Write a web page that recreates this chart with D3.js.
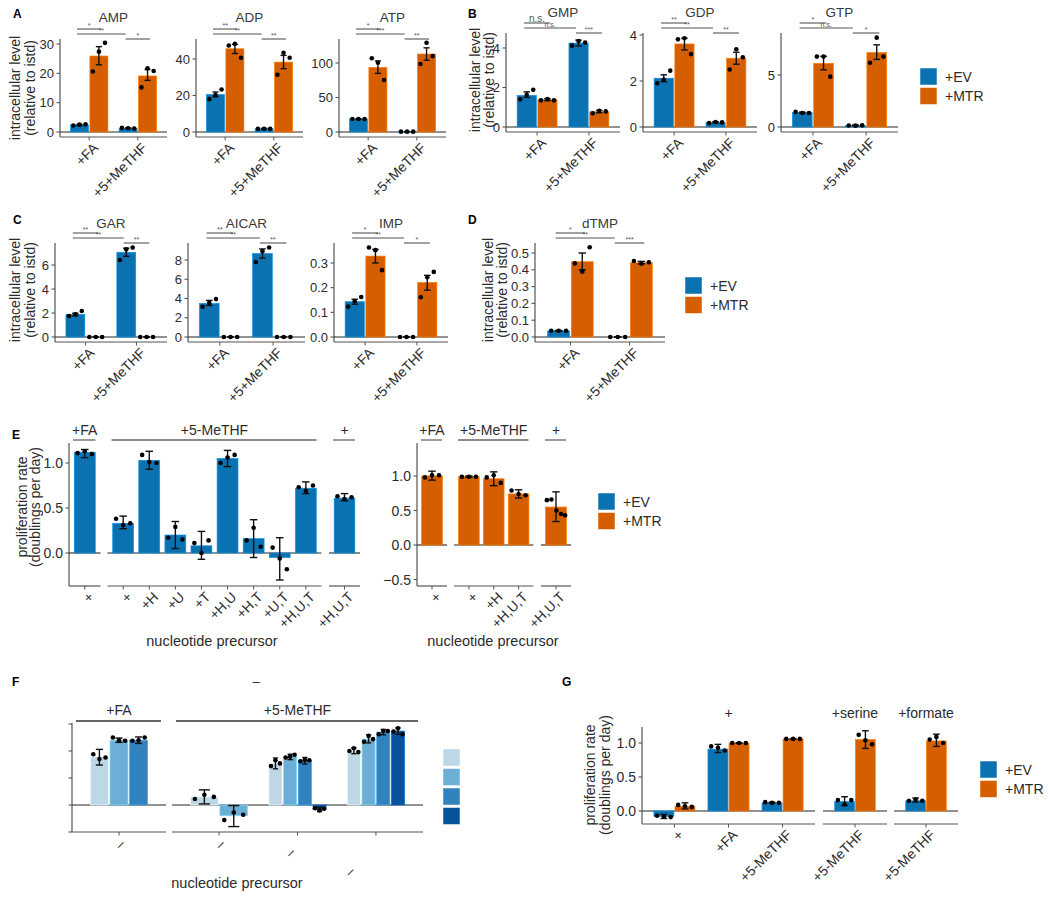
<!DOCTYPE html>
<html><head><meta charset="utf-8">
<script src="https://cdn.jsdelivr.net/npm/d3@7"></script>
<style>
body{margin:0;background:#fff;}
svg{font-family:"Liberation Sans",Arial,Helvetica,sans-serif;}
</style></head><body>
<svg id="chart" width="1050" height="897"></svg>
<script>
// ================= DATA =================
const conditions = ["+FA", "+5+MeTHF"];
const cellLines = ["+EV", "+MTR"];
// rows: [condition, cell line, mean, low, high, replicate points]
const AMP = [
  ["+FA", "+EV", 2.4, 2.2, 2.6, [2.2, 2.5, 2.6]],
  ["+FA", "+MTR", 25.9, 22.9, 29.1, [20.6, 27.4, 30.4]],
  ["+5+MeTHF", "+EV", 1.3, 1.2, 1.4, [1.4, 1.3, 1.2]],
  ["+5+MeTHF", "+MTR", 19.1, 17.6, 21.3, [15.2, 21.7, 20.8]]];
const ADP = [
  ["+FA", "+EV", 20.5, 19.3, 21.9, [18.0, 20.2, 23.3]],
  ["+FA", "+MTR", 45.6, 43.0, 48.0, [47.4, 48.3, 40.7]],
  ["+5+MeTHF", "+EV", 1.8, 1.6, 2.0, [1.8, 1.8, 1.8]],
  ["+5+MeTHF", "+MTR", 38.3, 34.7, 42.0, [31.4, 43.4, 40.7]]];
const ATP = [
  ["+FA", "+EV", 18.8, 18.3, 19.3, [18.8, 18.8, 18.8]],
  ["+FA", "+MTR", 93.7, 85, 103, [106.8, 100.4, 75.4]],
  ["+5+MeTHF", "+EV", 0.5, 0.3, 0.7, [0.5, 0.5, 0.5]],
  ["+5+MeTHF", "+MTR", 113, 104, 122, [98.5, 129.4, 110]]];
const GMP = [
  ["+FA", "+EV", 1.6, 1.5, 1.78, [1.4, 1.63, 1.88]],
  ["+FA", "+MTR", 1.38, 1.33, 1.43, [1.35, 1.42, 1.35]],
  ["+5+MeTHF", "+EV", 4.25, 4.1, 4.4, [4.12, 4.35, 4.28]],
  ["+5+MeTHF", "+MTR", 0.77, 0.72, 0.84, [0.70, 0.82, 0.79]]];
const GDP = [
  ["+FA", "+EV", 2.12, 1.97, 2.27, [1.9, 2.05, 2.45]],
  ["+FA", "+MTR", 3.61, 3.35, 3.86, [3.81, 3.86, 3.17]],
  ["+5+MeTHF", "+EV", 0.2, 0.17, 0.23, [0.17, 0.22, 0.2]],
  ["+5+MeTHF", "+MTR", 2.99, 2.73, 3.25, [2.5, 3.38, 3.03]]];
const GTP = [
  ["+FA", "+EV", 1.38, 1.33, 1.43, [1.45, 1.35, 1.35]],
  ["+FA", "+MTR", 6.12, 5.5, 6.8, [6.77, 6.77, 4.84]],
  ["+5+MeTHF", "+EV", 0.15, 0.1, 0.2, [0.15, 0.13, 0.16]],
  ["+5+MeTHF", "+MTR", 7.15, 6.5, 7.9, [6.18, 8.59, 6.77]]];
const GAR = [
  ["+FA", "+EV", 1.89, 1.77, 1.98, [1.75, 1.89, 2.17]],
  ["+FA", "+MTR", 0, 0, 0, [0, 0, 0]],
  ["+5+MeTHF", "+EV", 7.06, 6.72, 7.4, [6.42, 7.3, 7.45]],
  ["+5+MeTHF", "+MTR", 0, 0, 0, [0, 0, 0]]];
const AICAR = [
  ["+FA", "+EV", 3.49, 3.28, 3.8, [3.14, 3.55, 3.94]],
  ["+FA", "+MTR", 0, 0, 0, [0, 0, 0]],
  ["+5+MeTHF", "+EV", 8.67, 8.2, 9.15, [7.8, 8.9, 9.3]],
  ["+5+MeTHF", "+MTR", 0, 0, 0, [0, 0, 0]]];
const IMP = [
  ["+FA", "+EV", 0.143, 0.133, 0.153, [0.123, 0.145, 0.162]],
  ["+FA", "+MTR", 0.328, 0.30, 0.355, [0.363, 0.352, 0.271]],
  ["+5+MeTHF", "+EV", 0, 0, 0, [0, 0, 0]],
  ["+5+MeTHF", "+MTR", 0.221, 0.19, 0.25, [0.161, 0.242, 0.264]]];
const dTMP = [
  ["+FA", "+EV", 0.037, 0.035, 0.039, [0.037, 0.037, 0.037]],
  ["+FA", "+MTR", 0.448, 0.40, 0.50, [0.438, 0.389, 0.534]],
  ["+5+MeTHF", "+EV", 0, 0, 0, [0, 0, 0]],
  ["+5+MeTHF", "+MTR", 0.442, 0.435, 0.45, [0.452, 0.437, 0.445]]];
// significance labels: [FA EV vs FA MTR, FA EV vs MeTHF EV, MeTHF EV vs MeTHF MTR]
const AMP_sig = ["*", "**", "*"];
const ADP_sig = ["**", "**", "**"];
const ATP_sig = ["*", "***", "**"];
const GMP_sig = ["n.s.", "n.s.", "***"];
const GDP_sig = ["**", "**", "**"];
const GTP_sig = ["*", "n.s.", "*"];
const GAR_sig = ["**", "**", "**"];
const AICAR_sig = ["**", "**", "**"];
const IMP_sig = ["*", "**", "*"];
const dTMP_sig = ["*", "**", "***"];
const AMP_ticks = [0, 10, 20, 30], ADP_ticks = [0, 20, 40], ATP_ticks = [0, 50, 100];
const GMP_ticks = [0, 2, 4], GDP_ticks = [0, 2, 4], GTP_ticks = [0, 5];
const GAR_ticks = [0, 2, 4, 6], AICAR_ticks = [0, 2, 4, 6, 8];
const IMP_ticks = [0, 0.1, 0.2, 0.3], dTMP_ticks = [0, 0.1, 0.2, 0.3, 0.4, 0.5];

// Panel E  ("+" labels appear as "×" once rotated)
const E_strips = ["+FA", "+5-MeTHF", "+"];
const E_EV_cats = [["+"], ["+", "+H", "+U", "+T", "+H,U", "+H,T", "+U,T", "+H,U,T"], ["+H,U,T"]];
// rows: [facet, precursor, mean, low, high, points]
const E_EV = [
  [0, "+", 1.12, 1.06, 1.15, [1.11, 1.13, 1.10]],
  [1, "+", 0.33, 0.27, 0.41, [0.38, 0.31, 0.33]],
  [1, "+H", 1.03, 0.93, 1.13, [1.09, 1.01, 1.00]],
  [1, "+U", 0.20, 0.05, 0.35, [0.17, 0.29, 0.15]],
  [1, "+T", 0.08, -0.07, 0.24, [0.11, 0.00, 0.14]],
  [1, "+H,U", 1.05, 0.96, 1.14, [1.00, 1.06, 1.09]],
  [1, "+H,T", 0.16, -0.05, 0.37, [0.14, 0.28, 0.07]],
  [1, "+U,T", -0.05, -0.30, 0.17, [0.06, -0.06, -0.18]],
  [1, "+H,U,T", 0.72, 0.66, 0.79, [0.73, 0.69, 0.75]],
  [2, "+H,U,T", 0.61, 0.58, 0.66, [0.63, 0.60, 0.62]]];
const E_MTR_cats = [["+"], ["+", "+H", "+H,U,T"], ["+H,U,T"]];
const E_MTR = [
  [0, "+", 1.0, 0.94, 1.07, [0.98, 1.01, 1.01]],
  [1, "+", 0.99, 0.98, 1.0, [0.99, 0.99, 0.99]],
  [1, "+H", 0.96, 0.86, 1.06, [0.98, 1.01, 0.90]],
  [1, "+H,U,T", 0.74, 0.68, 0.80, [0.79, 0.74, 0.72]],
  [2, "+H,U,T", 0.55, 0.34, 0.77, [0.65, 0.66, 0.50, 0.45, 0.43]]];
const E_ticksEV = [0, 0.5, 1.0];
const E_ticksMTR = [-0.5, 0, 0.5, 1.0];

// Panel F
const F_strips = ["+FA", "+5-MeTHF"];
const F_cats = [["–"], ["–", "–", "–"]];
const F_labelPad = [[0], [0, 3, 10]];
const F_shades = ["#bdd7e7", "#6baed6", "#3182bd", "#08519c"];
// rows: [facet, group, shade, mean, low, high, points]
const F_rows = [
  [0, 0, 0, 0.89, 0.74, 1.03, [0.94, 0.85, 0.88]],
  [0, 0, 1, 1.20, 1.16, 1.24, [1.25, 1.20, 1.19]],
  [0, 0, 2, 1.20, 1.14, 1.26, [1.19, 1.20, 1.25]],
  [1, 0, 0, 0.15, 0.02, 0.28, [0.11, 0.19, 0.15]],
  [1, 0, 1, -0.20, -0.40, -0.01, [-0.28, -0.14, -0.18]],
  [1, 1, 0, 0.77, 0.67, 0.87, [0.72, 0.83, 0.77]],
  [1, 1, 1, 0.90, 0.84, 0.94, [0.88, 0.90, 0.93]],
  [1, 1, 2, 0.83, 0.76, 0.88, [0.81, 0.84, 0.83]],
  [1, 1, 3, -0.08, -0.12, -0.04, [-0.06, -0.10, -0.07]],
  [1, 2, 0, 1.00, 0.95, 1.06, [1.00, 1.05, 0.98]],
  [1, 2, 1, 1.22, 1.15, 1.30, [1.17, 1.28, 1.22]],
  [1, 2, 2, 1.35, 1.30, 1.40, [1.31, 1.37, 1.37]],
  [1, 2, 3, 1.37, 1.31, 1.43, [1.36, 1.42, 1.31]]];
const F_ticks = [-0.5, 0, 0.5, 1.0, 1.5];

// Panel G
const G_strips = ["+", "+serine", "+formate"];
const G_cats = [["+", "+FA", "+5-MeTHF"], ["+5-MeTHF"], ["+5-MeTHF"]];
// rows: [facet, condition, cell line, mean, low, high, points]
const G_rows = [
  [0, "+", "+EV", -0.08, -0.11, -0.05, [-0.07, -0.08, -0.09]],
  [0, "+", "+MTR", 0.07, 0.03, 0.12, [0.09, 0.07, 0.06]],
  [0, "+FA", "+EV", 0.91, 0.86, 0.98, [0.95, 0.93, 0.89]],
  [0, "+FA", "+MTR", 1.0, 0.995, 1.005, [1.0, 1.0, 1.0]],
  [0, "+5-MeTHF", "+EV", 0.12, 0.115, 0.13, [0.13, 0.12, 0.12]],
  [0, "+5-MeTHF", "+MTR", 1.06, 1.055, 1.065, [1.06, 1.06, 1.06]],
  [1, "+5-MeTHF", "+EV", 0.14, 0.08, 0.21, [0.16, 0.10, 0.16]],
  [1, "+5-MeTHF", "+MTR", 1.05, 0.92, 1.18, [1.12, 1.04, 0.98]],
  [2, "+5-MeTHF", "+EV", 0.15, 0.13, 0.19, [0.15, 0.17, 0.15]],
  [2, "+5-MeTHF", "+MTR", 1.03, 0.95, 1.13, [1.05, 1.09, 1.0]]];
const G_ticks = [0, 0.5, 1.0];

// ================= DRAWING =================
const svg = d3.select("#chart");
const COL = {"+EV": "#0b72b1", "+MTR": "#d55e00"};
const AXIS = "#555", ZERO = "#262626", TXT = "#2b2b2b";

function text(x, y, s, o = {}) {
  const t = svg.append("text").attr("x", x).attr("y", y).text(s)
    .attr("font-size", o.size || 13).attr("fill", o.fill || TXT)
    .attr("text-anchor", o.anchor || "middle");
  if (o.weight) t.attr("font-weight", o.weight);
  if (o.rotate) t.attr("transform", `rotate(${o.rotate},${x},${y})`);
  if (o.dy) t.attr("dy", o.dy);
  return t;
}

function ptOffsets(n) {
  if (n === 3) return [-0.34, 0, 0.34];
  if (n === 5) return [-0.44, -0.22, 0.02, 0.24, 0.44];
  return d3.range(n).map(i => (i - (n - 1) / 2) * 0.3);
}

function drawPanel(spec) {
  const g = svg.append("g");
  const y = d3.scaleLinear().domain([0, spec.refVal]).range([spec.zero, spec.refPx]);
  const xs = spec.facets.map(f => d3.scaleLinear().domain([0.4, f.cats.length + 0.6]).range([f.x0, f.x1]));
  const ax = spec.facets[0].x0;
  g.append("line").attr("x1", ax).attr("x2", ax).attr("y1", spec.top).attr("y2", spec.bottom)
    .attr("stroke", AXIS).attr("stroke-width", 1.2);
  spec.ticks.forEach(t => {
    g.append("line").attr("x1", ax - 3.5).attr("x2", ax).attr("y1", y(t)).attr("y2", y(t))
      .attr("stroke", AXIS).attr("stroke-width", 1.1);
    if (spec.tickFmt) g.append("text").attr("x", ax - 6).attr("y", y(t)).attr("dy", "0.36em")
      .attr("text-anchor", "end").attr("font-size", spec.tickSize || 13).attr("fill", TXT)
      .text(spec.tickFmt(t));
  });
  spec.facets.forEach((f, fi) => {
    const x = xs[fi];
    g.append("line").attr("x1", f.x0).attr("x2", f.x1).attr("y1", y(0)).attr("y2", y(0))
      .attr("stroke", ZERO).attr("stroke-width", 1.1);
    g.append("line").attr("x1", f.x0).attr("x2", f.x1).attr("y1", spec.bottom).attr("y2", spec.bottom)
      .attr("stroke", AXIS).attr("stroke-width", 1.2);
    f.cats.forEach((c, ci) => {
      const cx = x(ci + 1);
      g.append("line").attr("x1", cx).attr("x2", cx).attr("y1", spec.bottom).attr("y2", spec.bottom + 3.5)
        .attr("stroke", AXIS).attr("stroke-width", 1);
      const pad = f.pads ? "\u00a0".repeat(f.pads[ci]) : "";
      const lx = cx + (spec.lblDx !== undefined ? spec.lblDx : 3), ly = spec.bottom + (spec.lblDy || 5);
      g.append("text").attr("transform", `translate(${lx},${ly}) rotate(-45)`)
        .attr("text-anchor", "end").attr("dy", "0.7em").attr("font-size", spec.lblSize || 13.8)
        .attr("fill", TXT).text(c + pad);
    });
    if (f.strip !== undefined) {
      const mid = (f.x0 + f.x1) / 2;
      g.append("text").attr("x", mid).attr("y", spec.stripY).attr("text-anchor", "middle")
        .attr("font-size", 14).attr("fill", TXT).text(f.strip);
      if (spec.stripLineY) g.append("line").attr("x1", f.x0 + 4).attr("x2", f.x1 - 5)
        .attr("y1", spec.stripLineY).attr("y2", spec.stripLineY)
        .attr("stroke", "#666").attr("stroke-width", spec.stripLineW || 1.3);
    }
  });
  const bars = spec.bars.map(b => {
    const x = xs[b.facet];
    const slotW = spec.dodge / b.n;
    const pos = b.pos + (b.slot - (b.n - 1) / 2) * slotW;
    return Object.assign({}, b, {cx: x(pos), w: x(slotW - spec.gap) - x(0)});
  });
  g.selectAll("rect.bar").data(bars).join("rect").attr("class", "bar")
    .attr("x", d => d.cx - d.w / 2).attr("width", d => d.w)
    .attr("y", d => Math.min(y(d.mean), y(0))).attr("height", d => Math.abs(y(d.mean) - y(0)))
    .attr("fill", d => d.fill).attr("stroke", d => d3.color(d.fill).brighter(0.7)).attr("stroke-width", 0.7);
  bars.forEach(d => {
    const cw = d.w * (spec.capFrac || 0.34) / 2;
    g.append("line").attr("x1", d.cx).attr("x2", d.cx).attr("y1", y(d.lo)).attr("y2", y(d.hi))
      .attr("stroke", "#111").attr("stroke-width", 1.4);
    [d.lo, d.hi].forEach(v => g.append("line").attr("x1", d.cx - cw).attr("x2", d.cx + cw)
      .attr("y1", y(v)).attr("y2", y(v)).attr("stroke", "#111").attr("stroke-width", 1.4));
    const offs = ptOffsets(d.pts.length);
    d.pts.forEach((p, i) => g.append("circle").attr("cx", d.cx + offs[i] * d.w).attr("cy", y(p))
      .attr("r", 2.3).attr("fill", "#000"));
  });
  return {g, y, xs};
}

function metab(name, rows, sig, L, ticks, fmt) {
  const bars = rows.map(r => ({facet: 0, pos: conditions.indexOf(r[0]) + 1, slot: cellLines.indexOf(r[1]), n: 2,
    fill: COL[r[1]], mean: r[2], lo: r[3], hi: r[4], pts: r[5]}));
  const p = drawPanel({facets: [{x0: L.x0, x1: L.x1, cats: conditions}], zero: L.zero, refVal: L.refVal,
    refPx: L.refPx, top: L.top, bottom: L.bottom, ticks, tickFmt: fmt, bars, dodge: 0.8, gap: 0.03});
  text((L.x0 + L.x1) / 2, L.titleY, name, {size: 13.5, fill: "#3a3a3a"});
  const x = p.xs[0];
  const br = [[0.75, 1.25, L.top - 10], [0.75, 1.75, L.top - 5], [1.75, 2.25, L.top]];
  br.forEach((b, i) => {
    p.g.append("line").attr("x1", x(b[0])).attr("x2", x(b[1])).attr("y1", b[2]).attr("y2", b[2])
      .attr("stroke", "#555").attr("stroke-width", 1.1);
    const big = L.bigSig === i;
    p.g.append("text").attr("x", (x(b[0]) + x(b[1])) / 2).attr("y", b[2] - (big ? 1.5 : 1))
      .attr("text-anchor", "middle").attr("font-size", big ? 10 : 7).attr("fill", "#555").text(sig[i]);
  });
}

function yTitle(x, y, lines, size) {
  lines.forEach((s, i) => text(x[i], y, s, {size: size || 14, rotate: -90, dy: "0.35em"}));
}

function legend(x, y, items, cols, withText = true) {
  items.forEach((it, i) => {
    svg.append("rect").attr("x", x).attr("y", y + i * 19.5).attr("width", 17).attr("height", 17)
      .attr("fill", cols[i]).attr("stroke", "#fff").attr("stroke-width", 0.5);
    if (withText) text(x + 25, y + i * 19.5 + 8.5, it, {size: 14, anchor: "start", dy: "0.36em"});
  });
}

const f0 = d3.format("d"), f1 = d3.format(".1f");

// ---------- Rows A-D ----------
const rowA = {zero: 132, bottom: 137, top: 39, titleY: 22};
metab("AMP", AMP, AMP_sig, {...rowA, x0: 60, x1: 167, refVal: 30, refPx: 44}, AMP_ticks, f0);
metab("ADP", ADP, ADP_sig, {...rowA, x0: 196, x1: 303, refVal: 40, refPx: 59}, ADP_ticks, f0);
metab("ATP", ATP, ATP_sig, {...rowA, x0: 339, x1: 446, refVal: 100, refPx: 63}, ATP_ticks, f0);
const rowB = {zero: 127, bottom: 132, top: 33, titleY: 17};
metab("GMP", GMP, GMP_sig, {...rowB, x0: 506, x1: 620, refVal: 4, refPx: 48, bigSig: 0}, GMP_ticks, f0);
metab("GDP", GDP, GDP_sig, {...rowB, x0: 643, x1: 757, refVal: 4, refPx: 35}, GDP_ticks, f0);
metab("GTP", GTP, GTP_sig, {...rowB, x0: 781, x1: 898, refVal: 5, refPx: 75}, GTP_ticks, f0);
const rowC = {zero: 337, bottom: 342, top: 243, titleY: 228};
metab("GAR", GAR, GAR_sig, {...rowC, x0: 55, x1: 167, refVal: 6, refPx: 265}, GAR_ticks, f0);
metab("AICAR", AICAR, AICAR_sig, {...rowC, x0: 188, x1: 305, refVal: 8, refPx: 260}, AICAR_ticks, f0);
metab("IMP", IMP, IMP_sig, {...rowC, x0: 334, x1: 448, refVal: 0.3, refPx: 263}, IMP_ticks, f1);
metab("dTMP", dTMP, dTMP_sig, {...rowC, x0: 535, x1: 665, refVal: 0.5, refPx: 253}, dTMP_ticks, f1);

yTitle([15, 30], 88, ["intracellular level", "(relative to istd)"]);
yTitle([475, 489], 80, ["intracellular level", "(relative to istd)"]);
yTitle([15, 30], 290, ["intracellular level", "(relative to istd)"]);
yTitle([488, 502], 290, ["intracellular level", "(relative to istd)"]);

legend(920, 68, cellLines, [COL["+EV"], COL["+MTR"]]);
legend(685, 277, cellLines, [COL["+EV"], COL["+MTR"]]);

// ---------- Panel E ----------
function eBars(rows, cats, color) {
  return rows.map(r => ({facet: r[0], pos: cats[r[0]].indexOf(r[1]) + 1, slot: 0, n: 1, fill: color,
    mean: r[2], lo: r[3], hi: r[4], pts: r[5]}));
}
const eFacL = [[69, 100.5], [107.5, 321.5], [329, 360]];
drawPanel({facets: E_EV_cats.map((c, i) => ({x0: eFacL[i][0], x1: eFacL[i][1], cats: c, strip: E_strips[i]})),
  zero: 553, refVal: 1, refPx: 463, top: 443, bottom: 586, ticks: E_ticksEV, tickFmt: f1, tickSize: 14,
  bars: eBars(E_EV, E_EV_cats, COL["+EV"]), dodge: 0.8, gap: 0, stripY: 435, stripLineY: 440, capFrac: 0.36});
const eFacR = [[417, 447], [454, 533.5], [541, 571]];
drawPanel({facets: E_MTR_cats.map((c, i) => ({x0: eFacR[i][0], x1: eFacR[i][1], cats: c, strip: E_strips[i]})),
  zero: 545, refVal: 1, refPx: 476, top: 443, bottom: 586, ticks: E_ticksMTR, tickFmt: f1, tickSize: 14,
  bars: eBars(E_MTR, E_MTR_cats, COL["+MTR"]), dodge: 0.83, gap: 0, stripY: 435, stripLineY: 440, capFrac: 0.36});
yTitle([22, 35], 507, ["proliferation rate", "(doublings per day)"]);
text(212, 646, "nucleotide precursor", {size: 14.5});
text(493, 646, "nucleotide precursor", {size: 14.5});
legend(598, 493, cellLines, [COL["+EV"], COL["+MTR"]]);

// ---------- Panel F ----------
const fFac = [[72, 166], [172, 423]];
const fBars = F_rows.map(r => ({facet: r[0], pos: r[1] + 1, slot: r[2],
  n: F_rows.filter(q => q[0] === r[0] && q[1] === r[1]).length,
  fill: F_shades[r[2]], mean: r[3], lo: r[4], hi: r[5], pts: r[6]}));
drawPanel({facets: F_cats.map((c, i) => ({x0: fFac[i][0], x1: fFac[i][1], cats: c, strip: F_strips[i], pads: F_labelPad[i]})),
  zero: 805, refVal: 1, refPx: 751, top: 723, bottom: 832, ticks: F_ticks, tickFmt: null,
  bars: fBars, dodge: 0.75, gap: 0.02, stripY: 715, stripLineY: 721, stripLineW: 2, capFrac: 0.4,
  lblDx: 0, lblDy: 6});
text(256, 686, "–", {size: 13});
text(237, 888, "nucleotide precursor", {size: 14.5});
legend(443, 749, F_shades, F_shades, false);

// ---------- Panel G ----------
const gFac = [[642, 815], [823, 887], [894, 958]];
const gBars = G_rows.map(r => ({facet: r[0], pos: G_cats[r[0]].indexOf(r[1]) + 1, slot: cellLines.indexOf(r[2]), n: 2,
  fill: COL[r[2]], mean: r[3], lo: r[4], hi: r[5], pts: r[6]}));
drawPanel({facets: G_cats.map((c, i) => ({x0: gFac[i][0], x1: gFac[i][1], cats: c, strip: G_strips[i]})),
  zero: 811, refVal: 1, refPx: 743, top: 727, bottom: 824, ticks: G_ticks, tickFmt: f1, tickSize: 14,
  bars: gBars, dodge: 0.78, gap: 0.02, stripY: 718});
yTitle([590, 605], 775, ["proliferation rate", "(doublings per day)"]);
legend(980, 761, cellLines, [COL["+EV"], COL["+MTR"]]);

// ---------- panel letters ----------
[["A", 13, 18], ["B", 468, 18], ["C", 13, 224], ["D", 468, 224], ["E", 12, 439], ["F", 12, 686], ["G", 562, 686]]
  .forEach(l => text(l[1], l[2], l[0], {size: 12, weight: "bold", anchor: "start", fill: "#000"}));
</script></body></html>
